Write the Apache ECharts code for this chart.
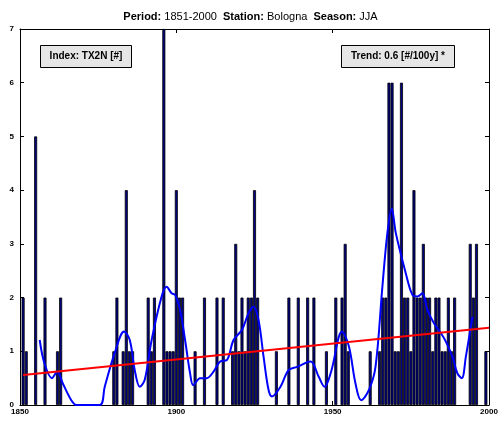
<!DOCTYPE html>
<html>
<head>
<meta charset="utf-8">
<script src="https://cdn.jsdelivr.net/npm/echarts@6/dist/echarts.min.js"></script>
<style>
html,body{margin:0;padding:0;background:#fff;}
#c{width:501px;height:423px;}
</style>
</head>
<body>
<div id="c"></div>
<script>
// Bar data: years with non-zero counts and their counts
const barYears = [1851,1852,1855,1858,1862,1863,
  1880,1881,1883,1884,1885,1886,
  1891,1892,1893,1896,1897,1898,1899,1900,1901,1902,
  1906,1909,1913,1915,1918,1919,1920,1921,1922,1923,1924,1925,1926,
  1932,1936,1939,1942,1944,1948,1951,1953,1954,1955,
  1962,1965,1966,1967,1968,1969,1970,1971,1972,1973,1974,1975,1976,1977,1978,1979,
  1980,1981,1982,1983,1984,1985,1986,1987,1988,1989,
  1994,1995,1996,1999];
const barCounts = [2,1,5,2,1,2,
  1,2,1,4,1,1,
  2,1,2,7,1,1,1,4,2,2,
  1,2,2,2,1,3,1,2,1,2,2,4,2,
  1,2,2,2,2,1,2,2,3,1,
  1,1,2,2,6,6,1,1,6,2,2,1,4,2,2,3,
  2,2,1,2,2,1,1,2,1,2,
  3,2,3,1];
// Smoothed curve
const smoothYears = [1856.3,1857.8,1860.2,1861.9,1863.7,1866.4,1868,1875.5,1877.1,1880.3,1883.3,1885.1,1886.7,1888.3,1889.9,1892.1,1895.3,1896.9,1898.5,1899.6,1901.2,1902.8,1904.4,1905.4,1907.6,1909.7,1911.9,1914.0,1916.2,1918.3,1921.0,1923.1,1924.7,1926.3,1927.9,1929.5,1930.6,1933.3,1935.9,1938.6,1942.9,1945.5,1947.4,1949.5,1953.0,1955.2,1957.3,1959.1,1961.6,1963.7,1965.9,1967.5,1968.9,1970.2,1973.4,1975.5,1977.1,1978.7,1980.3,1982.4,1984.6,1986.2,1988.3,1989.9,1991.3,1992.6,1994.7];
const smoothVals = [1.21,0.78,0.50,0.62,0.40,0.09,0.0,0.0,0.34,0.97,1.37,1.21,0.65,0.34,0.47,1.21,2.02,2.2,2.08,2.05,1.77,1.21,0.59,0.37,0.50,0.50,0.62,0.81,0.84,1.21,1.40,1.71,1.83,1.58,0.90,0.28,0.16,0.34,0.65,0.71,0.81,0.53,0.34,0.62,1.37,1.09,0.40,0.09,0.28,0.71,2.2,3.2,3.66,3.2,2.45,2.05,2.02,2.08,1.77,1.52,1.34,1.18,0.90,0.59,0.50,0.90,1.64];
// Linear trend endpoints
const trendYears = [1851, 2000];
const trendVals = [0.56, 1.44];
const xTicks = [1850, 1900, 1950, 2000];
const yTicks = [0,1,2,3,4,5,6,7];

const chart = echarts.init(document.getElementById('c'), null, {renderer:'canvas'});
const FONT = '"Liberation Sans", Arial, Helvetica, sans-serif';
const baseX = {
  type:'value', min:1850, max:2000, interval:50,
  axisLine:{show:true, onZero:false, lineStyle:{color:'#000', width:1}},
  axisTick:{show:true, inside:true, length:4, lineStyle:{color:'#000'}},
  splitLine:{show:false}
};
const baseY = {
  type:'value', min:0, max:7, interval:1,
  axisLine:{show:true, onZero:false, lineStyle:{color:'#000', width:1}},
  axisTick:{show:true, inside:true, length:4, lineStyle:{color:'#000'}},
  splitLine:{show:false}
};
chart.setOption({
  animation:false,
  backgroundColor:'#fff',
  title:{
    text:'{b|Period:} 1851-2000  {b|Station:} Bologna  {b|Season:} JJA',
    left:'center', top:6,
    textStyle:{fontFamily:FONT, fontSize:11, fontWeight:'normal', color:'#000',
      rich:{b:{fontFamily:FONT, fontSize:11, fontWeight:'bold', color:'#000'}}}
  },
  grid:{left:20, right:12, top:29, bottom:18, containLabel:false},
  xAxis:[
    Object.assign({}, baseX, {position:'bottom',
      axisLabel:{show:true, fontFamily:FONT, fontSize:8, fontWeight:'bold', color:'#000', margin:3,
        formatter:v=> xTicks.includes(v) ? String(v) : ''}}),
    Object.assign({}, baseX, {position:'top', axisLabel:{show:false}})
  ],
  yAxis:[
    Object.assign({}, baseY, {position:'left',
      axisLabel:{show:true, fontFamily:FONT, fontSize:8, fontWeight:'bold', color:'#000', margin:6,
        formatter:v=> yTicks.includes(v) ? String(v) : ''}}),
    Object.assign({}, baseY, {position:'right', axisLabel:{show:false}})
  ],
  series:[
    {type:'bar', xAxisIndex:0, yAxisIndex:0, barWidth:3,
      data: barYears.map((y,i)=>[y, barCounts[i]]),
      itemStyle:{color:'#000080', borderColor:'#000', borderWidth:0.8}},
    {type:'line', xAxisIndex:0, yAxisIndex:0, smooth:0.35, symbol:'none',
      data: smoothYears.map((y,i)=>[y, smoothVals[i]]),
      lineStyle:{color:'#0000ff', width:2}},
    {type:'line', xAxisIndex:0, yAxisIndex:0, symbol:'none',
      data: trendYears.map((y,i)=>[y, trendVals[i]]),
      lineStyle:{color:'#ff0000', width:2}}
  ],
  graphic:[
    {type:'rect', shape:{x:40.5, y:45.5, width:91, height:22},
      style:{fill:'#e6e6e6', stroke:'#000', lineWidth:1}, z:100},
    {type:'text', x:86, y:56.5, z:101,
      style:{text:'Index: TX2N [#]', fill:'#000', font:'bold 10px '+FONT, textAlign:'center', textVerticalAlign:'middle'}},
    {type:'rect', shape:{x:341.5, y:45.5, width:113, height:22},
      style:{fill:'#e6e6e6', stroke:'#000', lineWidth:1}, z:100},
    {type:'text', x:398, y:56.5, z:101,
      style:{text:'Trend: 0.6 [#/100y] *', fill:'#000', font:'bold 10px '+FONT, textAlign:'center', textVerticalAlign:'middle'}}
  ]
});
</script>
</body>
</html>
